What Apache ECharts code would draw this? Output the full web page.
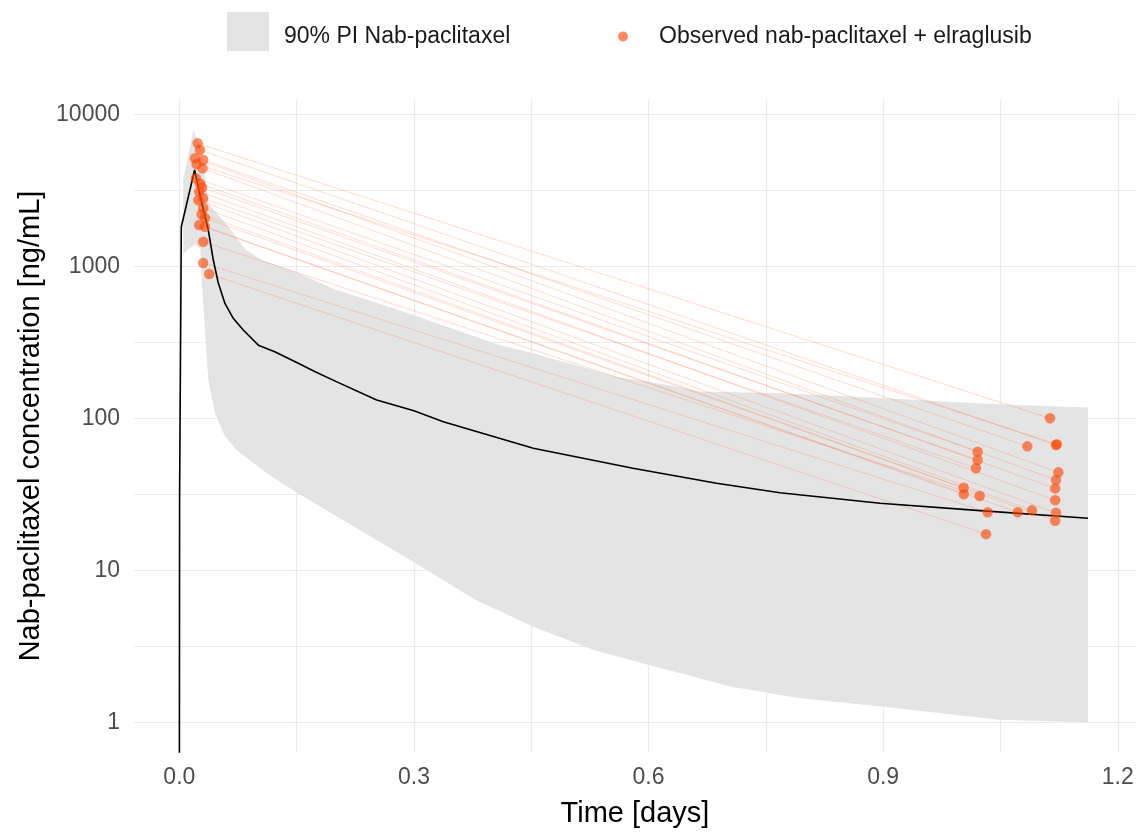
<!DOCTYPE html>
<html>
<head>
<meta charset="utf-8">
<script src="https://cdn.jsdelivr.net/npm/echarts@6/dist/echarts.min.js"></script>
<style>
  html, body { margin: 0; padding: 0; background: #fff; }
  #chart { width: 1140px; height: 840px; }
</style>
</head>
<body>
<div id="chart"></div>
<script>
// 90% prediction interval, upper and lower bound (time in days, ng/mL)
const bandUpperTime = [0.005, 0.0178, 0.0285, 0.033, 0.037, 0.0455, 0.0626, 0.084, 0.105, 0.148, 0.2, 0.25, 0.299, 0.41, 0.4526, 0.559, 0.623, 0.6657, 0.768, 0.898, 0.998, 1.079, 1.162];
const bandUpper = [3700, 7890, 5800, 3900, 2600, 2300, 1820, 1300, 1100, 920, 700, 580, 478, 303, 268, 188, 166, 150, 146, 136, 127, 122, 118];
const bandLowerTime = [0.005, 0.012, 0.02, 0.027, 0.0285, 0.0327, 0.037, 0.0456, 0.0583, 0.0733, 0.1116, 0.154, 0.2054, 0.299, 0.376, 0.4526, 0.529, 0.6, 0.708, 0.794, 0.898, 1.049, 1.162];
const bandLower = [1200, 1300, 1400, 1300, 813, 380, 178, 108, 76, 62, 43.5, 31.5, 22, 11.4, 6.5, 4.26, 3.0, 2.38, 1.71, 1.44, 1.27, 1.04, 1.0];

// model median
const medianTime = [0, 0.0003, 0.0025, 0.0195, 0.028, 0.037, 0.0434, 0.0497, 0.0583, 0.0689, 0.0817, 0.101, 0.122, 0.152, 0.173, 0.2, 0.2523, 0.3, 0.3375, 0.4526, 0.58, 0.687, 0.768, 0.896, 1.024, 1.162];
const medianConc = [0.3, 31, 1820, 4300, 2700, 1730, 1100, 780, 570, 455, 381, 303, 274, 230, 203, 175, 132, 112, 95, 63.5, 46.9, 37.4, 32.4, 27.6, 24.7, 22];

// observed data, one entry per subject: early sample and late sample
const obsTimeEarly = [0.0234, 0.0263, 0.022, 0.0199, 0.0305, 0.0297, 0.0212, 0.0263, 0.029, 0.0254, 0.0305, 0.0242, 0.0305, 0.0285, 0.0327, 0.0254, 0.0327, 0.0305, 0.0305, 0.0382];
const obsConcEarly = [6440, 5830, 4700, 5140, 5010, 4410, 3800, 3500, 3300, 3100, 2800, 2720, 2420, 2200, 2080, 1870, 1820, 1450, 1050, 890];
const obsTimeLate = [1.1133, 1.121, 1.122, 1.124, 1.0843, 1.121, 1.0208, 1.12, 1.0208, 1.12, 1.0187, 1.121, 1.0903, 1.003, 1.12, 1.003, 1.072, 1.0234, 1.0336, 1.0315];
const obsConcLate = [100, 66.7, 67.5, 44.1, 65.4, 39.3, 60.3, 34.6, 53.2, 28.9, 46.9, 23.9, 24.8, 34.9, 21.2, 31.6, 24.1, 30.8, 24.1, 17.3];

// axis breaks (x in days, y minor lines in log10 units)
const xLabelValues = [0, 0.3, 0.6, 0.9, 1.2];
const xGridValues = [0, 0.15, 0.3, 0.45, 0.6, 0.75, 0.9, 1.05, 1.2];
const yMinorLog = [0.5, 1.5, 2.5, 3.5];

const bandName = '90% PI Nab-paclitaxel';
const obsName = 'Observed nab-paclitaxel + elraglusib';
const obsColor = '#ff4500';
const gridColor = '#ebebeb';
const yMin = 0.638;
const yMax = 12420;

// legend key: grey box sitting a little above the text centre
const bandKeyIcon = 'path://M0,0L42,0L42,39L0,39Z M0,49L0.01,49Z';

const chart = echarts.init(document.getElementById('chart'));

const subjectLines = obsTimeEarly.map((t, i) => ({
  type: 'line',
  silent: true,
  symbol: 'none',
  z: 3,
  lineStyle: { color: obsColor, width: 1, opacity: 0.19 },
  data: [[t, obsConcEarly[i]], [obsTimeLate[i], obsConcLate[i]]]
}));

const obsPoints = obsTimeEarly.map((t, i) => [t, obsConcEarly[i]])
  .concat(obsTimeLate.map((t, i) => [t, obsConcLate[i]]));

const option = {
  animation: false,
  textStyle: { fontFamily: 'Liberation Sans, Arial, sans-serif' },
  legend: [
    {
      data: [{ name: bandName, icon: bandKeyIcon }],
      left: 222, top: 7,
      itemWidth: 42, itemHeight: 49,
      textStyle: { fontSize: 23, color: '#1a1a1a', padding: [0, 0, 0, 10] }
    },
    {
      data: [{ name: obsName, icon: 'circle' }],
      left: 613, top: 20,
      itemWidth: 10, itemHeight: 10,
      textStyle: { fontSize: 23, color: '#1a1a1a', padding: [4, 0, 0, 26] }
    }
  ],
  grid: { left: 134, right: 4, top: 100, bottom: 88 },
  xAxis: {
    type: 'value',
    min: -0.058,
    max: 1.2233,
    name: 'Time [days]',
    nameLocation: 'middle',
    nameGap: 47,
    nameTextStyle: { fontSize: 29, color: '#000' },
    axisLine: { show: false },
    axisTick: { show: false, customValues: xGridValues },
    axisLabel: {
      customValues: xLabelValues,
      fontSize: 23, color: '#4d4d4d', margin: 14,
      formatter: v => v.toFixed(1)
    },
    splitLine: { show: true, lineStyle: { color: gridColor, width: 1.2 } }
  },
  yAxis: [
    {
      type: 'log',
      logBase: 10,
      min: yMin,
      max: yMax,
      name: 'Nab-paclitaxel concentration [ng/mL]',
      nameLocation: 'middle',
      nameGap: 86,
      nameTextStyle: { fontSize: 29, color: '#000' },
      axisLine: { show: false },
      axisTick: { show: false },
      axisLabel: {
        fontSize: 23, color: '#4d4d4d', margin: 14,
        showMinLabel: false, showMaxLabel: false,
        formatter: v => String(Math.round(v))
      },
      splitLine: { show: true, showMinLine: false, showMaxLine: false, lineStyle: { color: gridColor, width: 1.2 } }
    },
    {
      // minor grid lines halfway between decades
      type: 'value',
      position: 'left',
      min: Math.log10(yMin),
      max: Math.log10(yMax),
      axisLine: { show: false },
      axisTick: { show: false, customValues: yMinorLog },
      axisLabel: { show: false },
      splitLine: { show: true, lineStyle: { color: gridColor, width: 1.2 } }
    }
  ],
  series: [
    {
      type: 'custom',
      name: bandName,
      z: 1,
      silent: true,
      itemStyle: { color: '#e4e4e4' },
      data: [[bandUpperTime[0], bandUpper[0]]],
      renderItem: (params, api) => {
        if (params.dataIndex !== 0) return;
        const pts = [];
        bandUpperTime.forEach((t, i) => pts.push(api.coord([t, bandUpper[i]])));
        for (let i = bandLowerTime.length - 1; i >= 0; i--) {
          pts.push(api.coord([bandLowerTime[i], bandLower[i]]));
        }
        return { type: 'polygon', shape: { points: pts }, style: { fill: '#e4e4e4' } };
      }
    },
    ...subjectLines,
    {
      type: 'line',
      name: 'median',
      silent: true,
      symbol: 'none',
      z: 4,
      lineStyle: { color: '#000', width: 1.6 },
      data: medianTime.map((t, i) => [t, medianConc[i]])
    },
    {
      type: 'scatter',
      name: obsName,
      z: 5,
      symbolSize: 10.5,
      itemStyle: { color: obsColor, opacity: 0.62 },
      data: obsPoints
    }
  ]
};

chart.setOption(option);
</script>
</body>
</html>
